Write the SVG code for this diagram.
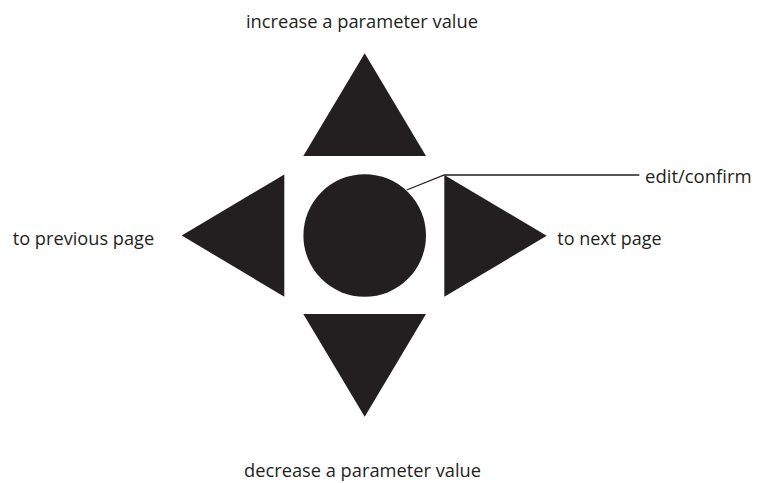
<svg xmlns="http://www.w3.org/2000/svg" width="757" height="483" viewBox="0 0 757 483">
<style>
.shape{fill:#231f20}
.lbl{font-family:"Open Sans","Noto Sans",sans-serif;font-size:17.5px;fill:#231f20}
.lead{fill:none;stroke:#231f20;stroke-width:1.3}
</style>
<rect width="757" height="483" fill="#fff"/>
<g id="up"><polygon class="shape" points="364.7,53.3 426,156 303.3,156"/><text class="lbl" x="246" y="28" textLength="232" lengthAdjust="spacingAndGlyphs">increase a parameter value</text></g>
<g id="down"><polygon class="shape" points="303.3,314 426,314 364.7,416.7"/><text class="lbl" x="244" y="476.5" textLength="237" lengthAdjust="spacingAndGlyphs">decrease a parameter value</text></g>
<g id="left"><polygon class="shape" points="181.7,235.5 284.3,174.5 284.3,296.7"/><text class="lbl" x="12.7" y="245" textLength="141.5" lengthAdjust="spacingAndGlyphs">to previous page</text></g>
<g id="right"><polygon class="shape" points="444.3,175 546.7,235.8 444.3,296.7"/><text class="lbl" x="557.3" y="245" textLength="104.4" lengthAdjust="spacingAndGlyphs">to next page</text></g>
<g id="center"><circle class="shape" cx="364.7" cy="235.5" r="61.3"/><text class="lbl" x="645" y="183.3" textLength="106.7" lengthAdjust="spacingAndGlyphs">edit/confirm</text></g>
<g id="connectors"><polyline class="lead" points="406.7,190 444.3,175 639.3,175"/></g>
</svg>
